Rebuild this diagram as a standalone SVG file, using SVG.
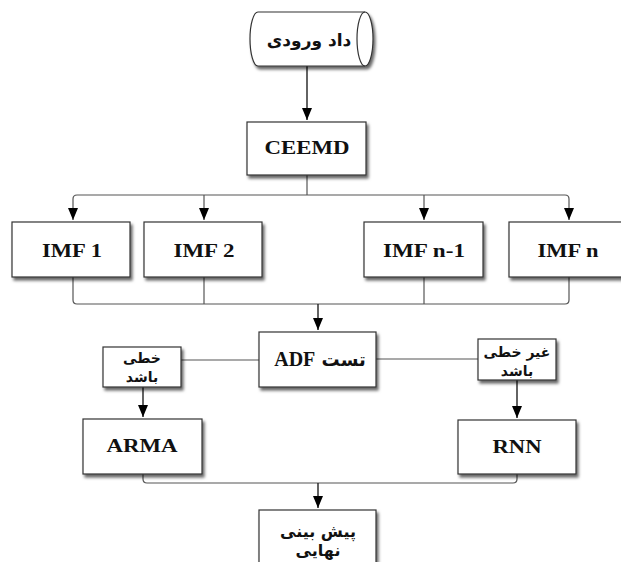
<svg xmlns="http://www.w3.org/2000/svg" width="621" height="562" viewBox="0 0 621 562">
<defs>
<filter id="sh" x="-10%" y="-10%" width="130%" height="140%">
<feDropShadow dx="2" dy="3" stdDeviation="1.5" flood-color="#000" flood-opacity="0.6"/>
</filter>
<marker id="ar" viewBox="0 0 12 10" refX="12" refY="5" markerWidth="12" markerHeight="11" markerUnits="userSpaceOnUse" orient="auto">
<path d="M0,0 L12,5 L0,10 Z" fill="#000"/>
</marker>
<style>
.box{fill:#fff;stroke:#333;stroke-width:1.2;filter:url(#sh)}
.en{font-family:"Liberation Serif","Times New Roman",serif;font-weight:bold;font-size:18px;fill:#111;text-anchor:middle}
.fa{font-family:"DejaVu Sans",sans-serif;font-weight:bold;fill:#111;text-anchor:middle;direction:rtl}
.ln{fill:none;stroke:#555;stroke-width:1.2}
.lk{fill:none;stroke:#222;stroke-width:1.4}
</style>
</defs>
<rect width="621" height="562" fill="#fff"/>
<g id="connectors">
<path class="lk" d="M307,66 V120" marker-end="url(#ar)"/>
<path class="ln" d="M307,175 V195"/>
<path class="ln" d="M77,195 H565 Q569,195 569,199 V220" marker-end="url(#ar)"/>
<path class="ln" d="M77,195 Q73,195 73,199 V220" marker-end="url(#ar)"/>
<path class="ln" d="M204,195 V220" marker-end="url(#ar)"/>
<path class="ln" d="M424,195 V220" marker-end="url(#ar)"/>
<path class="ln" d="M73,277 V300 Q73,304 77,304 H565 Q569,304 569,300 V277"/>
<path class="ln" d="M204,277 V304"/>
<path class="ln" d="M424,277 V304"/>
<path class="lk" d="M318,304 V330" marker-end="url(#ar)"/>
<path class="ln" d="M259,360 H181"/>
<path class="ln" d="M376,359 H478"/>
<path class="lk" d="M143,387 V417" marker-end="url(#ar)"/>
<path class="lk" d="M517,380 V418" marker-end="url(#ar)"/>
<path class="ln" d="M143,474 V479 Q143,483 147,483 H513 Q517,483 517,479 V474"/>
<path class="lk" d="M318,483 V508" marker-end="url(#ar)"/>
</g>
<g id="input">
<path d="M258,12 H365 A8,27 0 0 1 365,66 H258 A8,27 0 0 1 258,12 Z" fill="#fff" stroke="#333" stroke-width="1.2" filter="url(#sh)"/>
<path d="M365,12 A8,27 0 0 0 365,66" fill="none" stroke="#333" stroke-width="1.2"/>
<text class="fa" x="309" y="46" font-size="17">داد ورودی</text>
</g>
<g id="ceemd">
<rect class="box" x="247" y="122" width="119" height="53"/>
<text class="en" x="307" y="154" textLength="85" lengthAdjust="spacingAndGlyphs">CEEMD</text>
</g>
<g id="imf1">
<rect class="box" x="12" y="222" width="118" height="55"/>
<text class="en" x="72" y="257" textLength="60" lengthAdjust="spacingAndGlyphs">IMF 1</text>
</g>
<g id="imf2">
<rect class="box" x="144" y="222" width="118" height="55"/>
<text class="en" x="204" y="257" textLength="61" lengthAdjust="spacingAndGlyphs">IMF 2</text>
</g>
<g id="imfn1">
<rect class="box" x="364" y="222" width="119" height="55"/>
<text class="en" x="424" y="257" textLength="82" lengthAdjust="spacingAndGlyphs">IMF n-1</text>
</g>
<g id="imfn">
<rect class="box" x="509" y="222" width="114" height="55"/>
<text class="en" x="568" y="257" textLength="61" lengthAdjust="spacingAndGlyphs">IMF n</text>
</g>
<g id="adf">
<rect class="box" x="259" y="332" width="117" height="55"/>
<text class="fa" x="320" y="366" font-size="18">تست <tspan font-family="Liberation Serif, serif" font-size="20">ADF</tspan></text>
</g>
<g id="linear">
<rect class="box" x="103" y="347" width="78" height="40"/>
<text class="fa" x="142" y="363" font-size="14">خطی</text>
<text class="fa" x="142" y="382" font-size="14">باشد</text>
</g>
<g id="nonlinear">
<rect class="box" x="478" y="339" width="78" height="41"/>
<text class="fa" x="517" y="357" font-size="14">غیر خطی</text>
<text class="fa" x="517" y="376" font-size="14">باشد</text>
</g>
<g id="arma">
<rect class="box" x="83" y="419" width="119" height="55"/>
<text class="en" x="142" y="452" textLength="71" lengthAdjust="spacingAndGlyphs">ARMA</text>
</g>
<g id="rnn">
<rect class="box" x="458" y="420" width="118" height="54"/>
<text class="en" x="517" y="453" textLength="49" lengthAdjust="spacingAndGlyphs">RNN</text>
</g>
<g id="final">
<rect class="box" x="259" y="510" width="117" height="60"/>
<text class="fa" x="318" y="537" font-size="16">پیش بینی</text>
<text class="fa" x="318" y="556" font-size="16">نهایی</text>
</g>
</svg>
